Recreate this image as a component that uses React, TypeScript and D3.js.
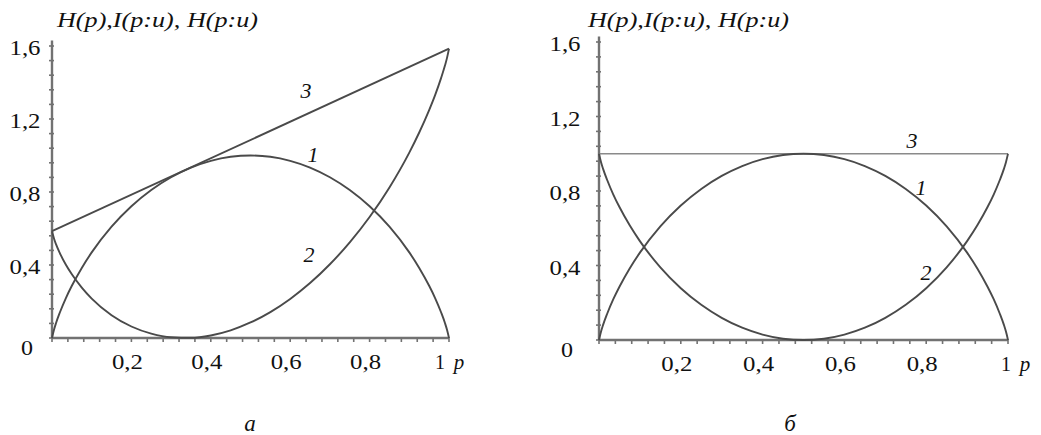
import React from "react";
import * as d3 from "d3";

// Probability grid shared by both panels
const pGrid = [
  0, 0.005, 0.01, 0.02, 0.035, 0.05, 0.075, 0.1, 0.15, 0.2, 0.25, 0.3, 0.35,
  0.4, 0.45, 0.5, 0.55, 0.6, 0.65, 0.7, 0.75, 0.8, 0.85, 0.9, 0.925, 0.95,
  0.965, 0.98, 0.99, 0.995, 1,
];

// Curve 1: H(p), same in both panels
const entropyH = [
  0, 0.045, 0.081, 0.141, 0.219, 0.286, 0.384, 0.469, 0.61, 0.722, 0.811,
  0.881, 0.934, 0.971, 0.993, 1.0, 0.993, 0.971, 0.934, 0.881, 0.811, 0.722,
  0.61, 0.469, 0.384, 0.286, 0.219, 0.141, 0.081, 0.045, 0,
];

// Panel а, curve 2: I(p:u)
const infoA = [
  0.585, 0.545, 0.514, 0.464, 0.401, 0.349, 0.276, 0.216, 0.125, 0.063, 0.024,
  0.004, 0.001, 0.014, 0.042, 0.085, 0.142, 0.214, 0.301, 0.404, 0.524, 0.663,
  0.825, 1.016, 1.126, 1.249, 1.331, 1.424, 1.494, 1.535, 1.585,
];

// Panel б, curve 2: I(p:u)
const infoB = [
  1.0, 0.955, 0.919, 0.859, 0.781, 0.714, 0.616, 0.531, 0.39, 0.278, 0.189,
  0.119, 0.066, 0.029, 0.007, 0, 0.007, 0.029, 0.066, 0.119, 0.189, 0.278,
  0.39, 0.531, 0.616, 0.714, 0.781, 0.859, 0.919, 0.955, 1.0,
];

// Curve 3: H(p:u), straight lines
const lineP = [0, 1];
const lineA = [0.585, 1.585];
const lineB = [1.0, 1.0];

// Axis labels
const yTickValues = [0, 0.4, 0.8, 1.2, 1.6];
const yTickLabels = ["0", "0,4", "0,8", "1,2", "1,6"];
const xTickValues = [0.2, 0.4, 0.6, 0.8, 1];
const xTickLabels = ["0,2", "0,4", "0,6", "0,8", "1"];
const titleText = "H(p),I(p:u), H(p:u)";

type PanelProps = {
  x0: number;
  x1: number;
  yBottom: number;
  yTop: number;
  curve2: number[];
  line3: number[];
  caption: string;
  captionX: number;
  titleX: number;
  yLabelX: number;
  oneX: number;
  pX: number;
  labels: { t: string; x: number; y: number }[];
  line3Style: { stroke: string; width: number };
};

const ink = "#4a4a4a";
const axisInk = "#727272";
const serifFont = { fontFamily: '"Liberation Serif", "Times New Roman", serif' };
const italicFont = { ...serifFont, fontStyle: "italic" as const };

function Panel(props: PanelProps) {
  const x = d3.scaleLinear().domain([0, 1]).range([props.x0, props.x1]);
  const y = d3.scaleLinear().domain([0, 1.6]).range([props.yBottom, props.yTop]);
  const gen = (vals: number[], ps: number[]) =>
    d3
      .line<number>()
      .x((_, i) => x(ps[i]))
      .y((v) => y(v))
      .curve(d3.curveMonotoneX)(vals) || "";

  const yMinor = d3.range(0, 1.6 + 1e-9, 0.08);
  const xMinor = d3.range(0, 1 + 1e-9, 0.04);

  return (
    <g>
      {/* axes */}
      <line x1={x(0)} x2={x(0)} y1={y(0)} y2={y(1.63)} stroke={axisInk} strokeWidth={2.4} />
      <line x1={x(0)} x2={x(1)} y1={y(0)} y2={y(0)} stroke={axisInk} strokeWidth={2.6} />
      {yMinor.map((v, i) => (
        <line key={"ym" + i} x1={x(0) - 3} x2={x(0) + 2} y1={y(v)} y2={y(v)} stroke={axisInk} strokeWidth={1.6} />
      ))}
      {xMinor.map((v, i) => (
        <line key={"xm" + i} x1={x(v)} x2={x(v)} y1={y(0) - 1} y2={y(0) + 4} stroke={axisInk} strokeWidth={1.6} />
      ))}

      {/* tick labels */}
      {yTickValues.map((v, i) => (
        <text
          key={"yl" + i}
          x={props.yLabelX + (v === 0 ? 2 : 0)}
          y={y(v) + (v === 0 ? 17 : 9)}
          textAnchor="middle"
          style={serifFont}
          fontSize={21}
          fill="#111"
          textLength={v === 0 ? 12 : 31}
          lengthAdjust="spacingAndGlyphs"
        >
          {yTickLabels[i]}
        </text>
      ))}
      {xTickValues.map((v, i) => (
        <text
          key={"xl" + i}
          x={v === 1 ? props.oneX : x(v) - 4}
          y={y(0) + 31}
          textAnchor="middle"
          style={serifFont}
          fontSize={21}
          fill="#111"
          textLength={v === 1 ? 10 : 31}
          lengthAdjust="spacingAndGlyphs"
        >
          {xTickLabels[i]}
        </text>
      ))}
      <text x={props.pX} y={y(0) + 31} textAnchor="middle" style={italicFont} fontSize={21} fill="#111">
        p
      </text>

      {/* title */}
      <text x={props.titleX} y={27} style={italicFont} fontSize={21} fill="#111" textLength={201} lengthAdjust="spacingAndGlyphs">
        {titleText}
      </text>

      {/* curves */}
      <path d={gen(props.line3, lineP)} fill="none" stroke={props.line3Style.stroke} strokeWidth={props.line3Style.width} />
      <path d={gen(entropyH, pGrid)} fill="none" stroke={ink} strokeWidth={1.9} />
      <path d={gen(props.curve2, pGrid)} fill="none" stroke={ink} strokeWidth={1.9} />

      {/* curve numbers */}
      {props.labels.map((l, i) => (
        <text key={"cl" + i} x={l.x} y={l.y} textAnchor="middle" style={italicFont} fontSize={22} fill="#111">
          {l.t}
        </text>
      ))}

      {/* panel caption */}
      <text x={props.captionX} y={431} textAnchor="middle" style={italicFont} fontSize={23} fill="#111">
        {props.caption}
      </text>
    </g>
  );
}

export default function App() {
  return (
    <svg
      width={1041}
      height={435}
      viewBox="0 0 1041 435"
      style={{ position: "absolute", left: 0, top: 0, background: "#fff" }}
    >
      <rect width={1041} height={435} fill="#fff" />
      <Panel
        x0={52}
        x1={449}
        yBottom={338}
        yTop={46}
        curve2={infoA}
        line3={lineA}
        caption="а"
        captionX={250}
        titleX={57}
        yLabelX={25}
        oneX={440}
        pX={459}
        labels={[
          { t: "3", x: 306, y: 98 },
          { t: "1", x: 313, y: 162 },
          { t: "2", x: 309, y: 262 },
        ]}
        line3Style={{ stroke: ink, width: 1.9 }}
      />
      <Panel
        x0={599}
        x1={1008}
        yBottom={340}
        yTop={42}
        curve2={infoB}
        line3={lineB}
        caption="б"
        captionX={790}
        titleX={588}
        yLabelX={565}
        oneX={1006}
        pX={1025}
        labels={[
          { t: "3", x: 912, y: 148 },
          { t: "1", x: 921, y: 195 },
          { t: "2", x: 926, y: 280 },
        ]}
        line3Style={{ stroke: "#8a8a8a", width: 1.6 }}
      />
    </svg>
  );
}
